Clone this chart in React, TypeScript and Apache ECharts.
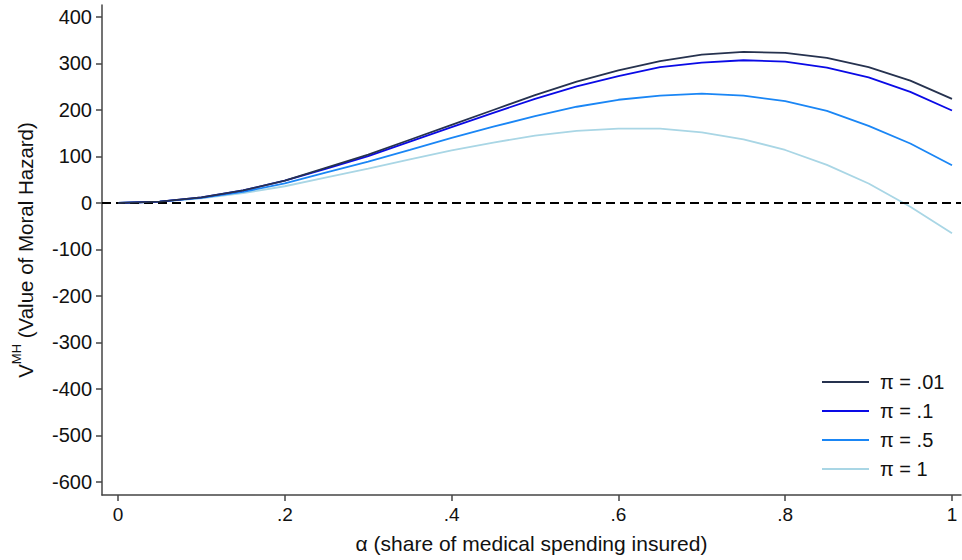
import React, { useEffect, useRef } from "react";
import * as echarts from "echarts";

const alphas = [0, 0.05, 0.1, 0.15, 0.2, 0.25, 0.3, 0.35, 0.4, 0.45, 0.5, 0.55, 0.6, 0.65, 0.7, 0.75, 0.8, 0.85, 0.9, 0.95, 1];
const pi001 = [0, 3, 12, 27, 48, 76, 104, 136, 168, 200, 232, 261, 285, 305, 319, 325, 323, 312, 292, 263, 224];
const pi01 = [0, 3, 12, 27, 48, 74, 101, 132, 163, 194, 224, 251, 273, 292, 302, 307, 304, 291, 270, 239, 199];
const pi05 = [0, 3, 11, 24, 42, 66, 89, 114, 140, 164, 187, 207, 222, 231, 235, 231, 219, 198, 166, 128, 81];
const pi1 = [0, 3, 10, 21, 36, 55, 74, 94, 113, 130, 145, 155, 160, 160, 152, 137, 114, 82, 42, -8, -65];
const seriesNames = ["π = .01", "π = .1", "π = .5", "π = 1"];
const seriesColors = ["#26324f", "#0a0ae6", "#1a86f5", "#a9d6e5"];
const xTicks = [0, 0.2, 0.4, 0.6, 0.8, 1];
const yTicks = [-600, -500, -400, -300, -200, -100, 0, 100, 200, 300, 400];

const FONT = "'Liberation Sans', Arial, sans-serif";

export default function App() {
  const ref = useRef<HTMLDivElement>(null);
  useEffect(() => {
    document.body.style.margin = "0";
    if (!ref.current) return;
    const chart = echarts.init(ref.current, null, { renderer: "svg" });
    const all = [pi001, pi01, pi05, pi1];
    const series: any[] = all.map((vals, i) => ({
      name: seriesNames[i],
      type: "line",
      symbol: "none",
      data: alphas.map((a, j) => [a, vals[j]]),
      lineStyle: { color: seriesColors[i], width: 1.8 },
      itemStyle: { color: seriesColors[i] },
      z: 5 - i,
    }));
    series.push({
      name: "zero",
      type: "line",
      data: [],
      markLine: {
        silent: true,
        symbol: "none",
        label: { show: false },
        lineStyle: { color: "#000", type: [9, 5], width: 1.8 },
        data: [{ yAxis: 0 }],
      },
    });
    chart.setOption({
      animation: false,
      backgroundColor: "#fff",
      grid: { left: 102, right: 1, top: 5, bottom: 65, containLabel: false },
      legend: {
        orient: "vertical",
        left: 817,
        top: 367,
        icon: "rect",
        itemWidth: 47,
        itemHeight: 2,
        itemGap: 9,
        data: seriesNames,
        textStyle: { fontSize: 20, color: "#111", fontFamily: FONT, padding: [0, 0, 0, 6] },
      },
      xAxis: {
        type: "value",
        min: -0.0192,
        max: 1.0108,
        splitLine: { show: false },
        axisLine: { onZero: false, lineStyle: { color: "#444", width: 1.5 } },
        axisTick: { customValues: xTicks, length: 6, lineStyle: { color: "#444", width: 1.5 } },
        axisLabel: {
          customValues: xTicks,
          fontSize: 19,
          color: "#111",
          fontFamily: FONT,
          margin: 10,
          formatter: (v: number) => (v === 0 ? "0" : v === 1 ? "1" : String(v).replace(/^0\./, ".")),
        },
        name: "α (share of medical spending insured)",
        nameLocation: "middle",
        nameGap: 38,
        nameTextStyle: { fontSize: 21, color: "#111", fontFamily: FONT },
      },
      yAxis: {
        type: "value",
        min: -628,
        max: 425.8,
        splitLine: { show: false },
        axisLine: { show: true, onZero: false, lineStyle: { color: "#444", width: 1.5 } },
        axisTick: { show: true, customValues: yTicks, length: 6, lineStyle: { color: "#444", width: 1.5 } },
        axisLabel: {
          customValues: yTicks,
          fontSize: 20,
          color: "#111",
          fontFamily: FONT,
          margin: 10,
        },
        name: "{v|V}{s|MH}{v| (Value of Moral Hazard)}",
        nameLocation: "middle",
        nameRotate: 90,
        nameGap: 66,
        nameTextStyle: {
          fontSize: 20.5,
          color: "#111",
          fontFamily: FONT,
          rich: {
            v: { fontSize: 20.5, color: "#111", fontFamily: FONT, lineHeight: 26, verticalAlign: "bottom" },
            s: { fontSize: 13, color: "#111", fontFamily: FONT, lineHeight: 26, verticalAlign: "top" },
          },
        },
      },
      series,
    });
    return () => chart.dispose();
  }, []);
  return <div ref={ref} style={{ width: 962, height: 560 }} />;
}
